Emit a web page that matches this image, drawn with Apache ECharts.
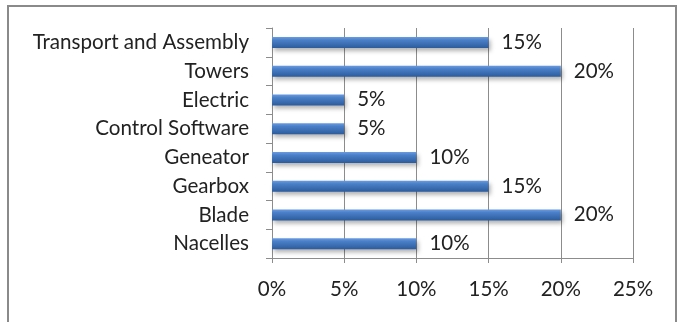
<!DOCTYPE html>
<html>
<head>
<meta charset="utf-8">
<script src="https://cdn.jsdelivr.net/npm/echarts@6/dist/echarts.min.js"></script>
<style>
  html, body { margin: 0; padding: 0; background: #fff; }
  #chart { width: 678px; height: 322px; }
</style>
</head>
<body>
<div id="chart"></div>
<script>
// Cost breakdown, listed bottom to top as the category axis draws them
const categories = ['Nacelles', 'Blade', 'Gearbox', 'Geneator', 'Control Software', 'Electric', 'Towers', 'Transport and Assembly'];
const shares = [10, 20, 15, 10, 5, 5, 20, 15];
const tickLabels = ['0%', '5%', '10%', '15%', '20%', '25%'];

const FONT = 'Lato, "Open Sans", sans-serif';
const TEXT = '#222222';
const LINE = '#8c8c8c';

const chart = echarts.init(document.getElementById('chart'), null, { renderer: 'canvas' });

chart.setOption({
  animation: false,
  backgroundColor: '#ffffff',
  graphic: [{
    type: 'rect',
    shape: { x: 8, y: 6, width: 668, height: 330 },
    style: { fill: 'none', stroke: '#8a8a8a', lineWidth: 2 },
    silent: true
  }],
  grid: { left: 272, right: 45, top: 28, bottom: 64, containLabel: false },
  xAxis: {
    type: 'value',
    min: 0,
    max: 25,
    interval: 5,
    axisLine: { show: true, lineStyle: { color: LINE, width: 1 } },
    axisTick: { show: true, length: 5, lineStyle: { color: LINE } },
    splitLine: { show: true, lineStyle: { color: LINE, width: 1 } },
    axisLabel: {
      margin: 21,
      color: TEXT,
      fontFamily: FONT,
      fontSize: 20.5,
      formatter: function (v) { return tickLabels[Math.round(v / 5)]; }
    }
  },
  yAxis: {
    type: 'category',
    data: categories,
    axisLine: { show: true, lineStyle: { color: LINE, width: 1 } },
    axisTick: { show: true, length: 6, alignWithLabel: false, lineStyle: { color: LINE } },
    axisLabel: {
      margin: 23,
      color: TEXT,
      fontFamily: FONT,
      fontSize: 20.6
    }
  },
  series: [{
    type: 'bar',
    data: shares,
    barWidth: 11,
    itemStyle: {
      color: new echarts.graphic.LinearGradient(0, 0, 0, 1, [
        { offset: 0, color: '#6a9ce2' },
        { offset: 0.3, color: '#4a7fc7' },
        { offset: 1, color: '#2c5c9d' }
      ]),
      shadowColor: 'rgba(0,0,0,0.3)',
      shadowBlur: 4,
      shadowOffsetX: 2,
      shadowOffsetY: 3
    },
    label: {
      show: true,
      position: 'right',
      distance: 13,
      color: TEXT,
      fontFamily: FONT,
      fontSize: 20.5,
      formatter: function (p) { return p.value + '%'; }
    }
  }]
});
</script>
</body>
</html>
